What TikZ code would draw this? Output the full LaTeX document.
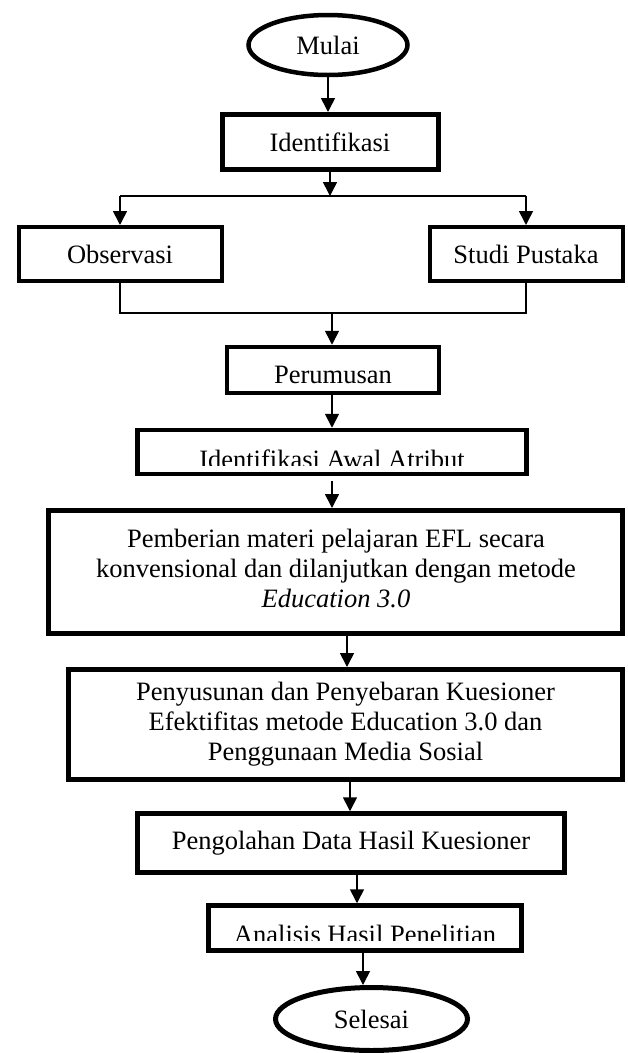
\documentclass[tikz,border=0pt]{standalone}
\usepackage{fontspec}
\setmainfont{Liberation Serif}
\usetikzlibrary{shapes.geometric,arrows.meta,calc}
\begin{document}
\begin{tikzpicture}[x=1pt,y=-1pt,
  txt/.style={font=\fontsize{26.5}{30}\selectfont},
  box/.style={draw,rectangle,inner sep=0pt,align=center,txt},
  oval/.style={draw,ellipse,inner sep=0pt,txt},
  lbl/.style={txt,inner sep=0pt,anchor=base},
  arr/.style={line width=1.6pt,-{Triangle[width=14pt,length=14pt]}},
  ln/.style={line width=1.3pt}]
\useasboundingbox (0,0) rectangle (627,1053);

\node[oval,line width=4.5pt,minimum width=159pt,minimum height=60pt] (mulai) at (328,45) {Mulai};
\node[box,line width=5pt,minimum width=216pt,minimum height=55pt] (ident) at (330,142) {Identifikasi};
\node[box,line width=4pt,minimum width=203pt,minimum height=54pt] (obs) at (120,254) {Observasi};
\node[box,line width=4pt,minimum width=193pt,minimum height=54pt] (studi) at (526,254) {Studi Pustaka};
\node[box,line width=4.5pt,minimum width=212pt,minimum height=46pt] (perum) at (333,370) {};
\node[lbl] (perumt) at (333,383) {Perumusan};
\node[box,line width=4.5pt,minimum width=389pt,minimum height=44pt] (iaa) at (332,452) {};
\begin{scope}
  \clip (135,428) rectangle (529,465);
  \node[lbl] (iaat) at (332,468) {Identifikasi Awal Atribut};
\end{scope}
\node[box,line width=5pt,minimum width=574pt,minimum height=123pt] (pemb) at (335.5,572) {};
\node[txt,align=center,inner sep=0pt] (pembt) at (336,568) {Pemberian materi pelajaran EFL secara\\konvensional dan dilanjutkan dengan metode\\\textit{Education 3.0}};
\node[box,line width=5pt,minimum width=554pt,minimum height=110pt] (peny) at (345.5,724.5) {Penyusunan dan Penyebaran Kuesioner\\Efektifitas metode Education 3.0 dan\\Penggunaan Media Sosial};
\node[box,line width=4.5pt,minimum width=427pt,minimum height=59pt] (peng) at (351,843) {Pengolahan Data Hasil Kuesioner};
\node[box,line width=4.5pt,minimum width=313pt,minimum height=45pt] (ana) at (365,928) {};
\begin{scope}
  \clip (206,903) rectangle (524,940);
  \node[lbl] (anat) at (365,943) {Analisis Hasil Penelitian};
\end{scope}
\node[oval,line width=5pt,minimum width=192pt,minimum height=63pt] (sel) at (371.5,1019) {Selesai};

\coordinate (jl) at (120,196);
\coordinate (jr) at (526,196);
\coordinate (kl) at (120,313);
\coordinate (kr) at (526,313);
\coordinate (km) at (332,313);

\draw[arr] (mulai.south) -- (mulai.south |- ident.north);
\draw[arr] (ident.south) -- (ident.south |- jl);
\draw[ln] (jl) -- (jr);
\draw[arr] (jl) -- (obs.north);
\draw[arr] (jr) -- (studi.north);
\draw[ln] (obs.south) -- (kl) -- (kr) -- (studi.south);
\draw[arr] (km) -- (km |- perum.north);
\draw[arr] ([xshift=-1pt]perum.south) -- ([xshift=-1pt]perum.south |- iaa.north);
\draw[arr] ([yshift=-5pt]iaa.south) -- (iaa.south |- pemb.north);
\draw[arr] ([xshift=11.5pt]pemb.south) -- ([xshift=11.5pt]pemb.south |- peny.north);
\draw[arr] ([xshift=4.5pt]peny.south) -- ([xshift=4.5pt]peny.south |- peng.north);
\draw[arr] ([xshift=6pt]peng.south) -- ([xshift=6pt]peng.south |- ana.north);
\draw[arr] ([xshift=-2pt]ana.south) -- ([xshift=-2pt]ana.south |- sel.north);
\end{tikzpicture}
\end{document}
